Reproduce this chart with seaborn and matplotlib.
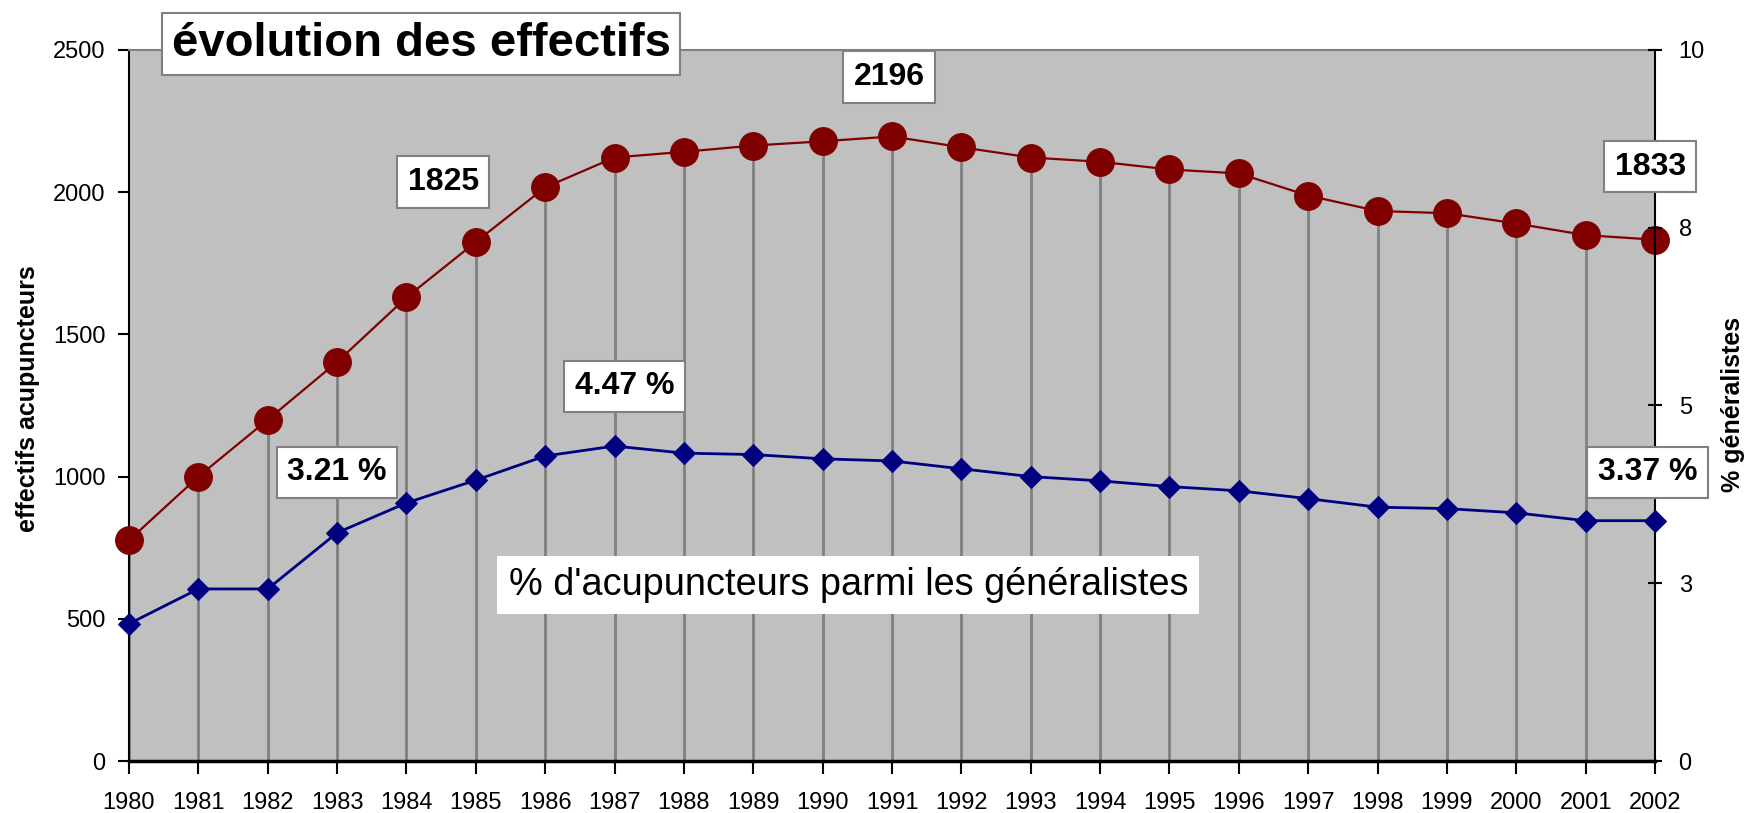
import matplotlib
matplotlib.use("Agg")
import matplotlib.pyplot as plt
import seaborn as sns
from matplotlib.ticker import FixedLocator, FixedFormatter

# ---------------- data ----------------
years = list(range(1980, 2003))
effectifs = [776, 1000, 1200, 1403, 1630, 1825, 2017, 2122, 2142, 2164, 2179, 2196,
             2158, 2122, 2107, 2080, 2066, 1988, 1934, 1926, 1890, 1849, 1833]
pct_generalistes = [1.93, 2.42, 2.42, 3.21, 3.63, 3.95, 4.29, 4.43, 4.33, 4.31, 4.25, 4.22,
                    4.11, 4.00, 3.94, 3.86, 3.80, 3.69, 3.57, 3.55, 3.49, 3.38, 3.38]
left_ticks = [0, 500, 1000, 1500, 2000, 2500]
right_ticks = [0, 2.5, 5, 7.5, 10]
right_tick_labels = ["0", "3", "5", "8", "10"]
title_text = "évolution des effectifs"
left_label = "effectifs acupuncteurs"
right_label = "% généralistes"
series_label = "% d'acupuncteurs parmi les généralistes"
pct_labels = ["3.21 %", "4.47 %", "3.37 %"]
# ---------------------------------------

sns.set_style("ticks")
plt.rcParams["font.family"] = ["Liberation Sans", "DejaVu Sans"]
plt.rcParams["text.color"] = "black"
plt.rcParams["axes.labelcolor"] = "black"
plt.rcParams["xtick.color"] = "black"
plt.rcParams["ytick.color"] = "black"

fig = plt.figure(figsize=(17.57, 8.13), dpi=100)
ax = fig.add_axes([129 / 1757, 1 - 761 / 813, (1655 - 129) / 1757, (761 - 50) / 813])
ax.set_facecolor("#C0C0C0")

# drop lines
ax.vlines(years, 0, effectifs, color="#808080", linewidth=2, zorder=1)

sns.lineplot(x=years, y=effectifs, ax=ax, color="#800000", marker="o", markersize=20,
             markeredgecolor="#800000", linewidth=1.6, clip_on=False, zorder=3)

ax.set_xlim(1980, 2002)
ax.set_ylim(0, 2500)
ax.xaxis.set_major_locator(FixedLocator(years))
ax.xaxis.set_major_formatter(FixedFormatter([str(y) for y in years]))
ax.yaxis.set_major_locator(FixedLocator(left_ticks))
ax.yaxis.set_major_formatter(FixedFormatter([str(v) for v in left_ticks]))
ax.tick_params(axis="x", direction="out", length=9, width=1.5, labelsize=17, pad=13, colors="black")
ax.tick_params(axis="y", direction="out", length=8, width=1.5, labelsize=17, pad=9, colors="black")

ax.spines["left"].set_color("black")
ax.spines["left"].set_linewidth(1.5)
ax.spines["bottom"].set_color("black")
ax.spines["bottom"].set_linewidth(2.5)
ax.spines["top"].set_visible(True)
ax.spines["top"].set_color("#808080")
ax.spines["top"].set_linewidth(1.5)
ax.spines["right"].set_visible(False)

ax.set_xlabel("")
ax.set_ylabel(left_label, fontsize=18, fontweight="bold")
ax.yaxis.set_label_coords(-0.058, 0.509)

ax2 = ax.twinx()
sns.lineplot(x=years, y=pct_generalistes, ax=ax2, color="#000080", marker="D", markersize=11,
             markeredgecolor="#000080", linewidth=2, clip_on=False, zorder=3)
ax2.set_ylim(0, 10)
ax2.yaxis.set_major_locator(FixedLocator(right_ticks))
ax2.yaxis.set_major_formatter(FixedFormatter(right_tick_labels))
ax2.tick_params(axis="y", direction="inout", length=10, width=1.5, labelsize=17, pad=12, colors="black")
for s in ["left", "top", "bottom"]:
    ax2.spines[s].set_visible(False)
ax2.spines["right"].set_visible(True)
ax2.spines["right"].set_color("black")
ax2.spines["right"].set_linewidth(1.5)
ax2.set_ylabel(right_label, fontsize=18, fontweight="bold", rotation=90)
ax2.yaxis.set_label_coords(1.043, 0.502)

box = dict(boxstyle="square,pad=0.33", facecolor="white", edgecolor="#808080", linewidth=1.5)

def label(x, y, txt, size=23, weight="bold", bbox=box):
    ax2.text(x, y, txt, transform=ax.transData, ha="center", va="center",
             fontsize=size, fontweight=weight, bbox=bbox, zorder=10, clip_on=False)

label(1984.53, 2036, str(effectifs[5]))
label(1990.96, 2405, str(effectifs[11]))
label(2001.93, 2089, str(effectifs[22]))
label(1983.0, 1016, pct_labels[0])
label(1987.14, 1318, pct_labels[1])
label(2001.89, 1016, pct_labels[2])
label(1990.37, 619, series_label, size=27.3, weight="normal",
      bbox=dict(boxstyle="square,pad=0.3", facecolor="white", edgecolor="none"))
label(1984.21, 2521, title_text, size=34,
      bbox=dict(boxstyle="square,pad=0.2", facecolor="white", edgecolor="#808080", linewidth=1.5))

fig.savefig("out.png", dpi=100)
